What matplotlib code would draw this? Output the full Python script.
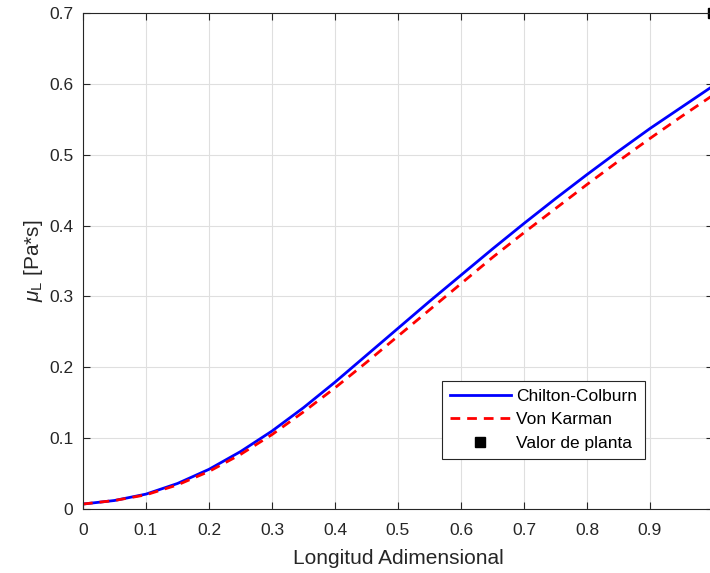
import numpy as np
import matplotlib
matplotlib.use("Agg")
import matplotlib.pyplot as plt

plt.rcParams['font.family'] = ['Liberation Sans', 'DejaVu Sans']
plt.rcParams['mathtext.fontset'] = 'custom'
plt.rcParams['mathtext.it'] = 'Liberation Sans:italic'
plt.rcParams['mathtext.rm'] = 'Liberation Sans'

# Longitud adimensional
x = [0.0, 0.05, 0.1, 0.15, 0.2, 0.25, 0.3, 0.35, 0.4, 0.45, 0.5,
     0.55, 0.6, 0.65, 0.7, 0.75, 0.8, 0.85, 0.9, 0.95, 1.0]

# viscosidad [Pa*s]
chilton_colburn = [0.007, 0.012, 0.021, 0.036, 0.056, 0.081, 0.110, 0.143, 0.179, 0.217, 0.255,
                   0.293, 0.330, 0.367, 0.403, 0.438, 0.472, 0.505, 0.537, 0.567, 0.597]
von_karman = [0.007, 0.012, 0.020, 0.034, 0.053, 0.077, 0.105, 0.137, 0.171, 0.207, 0.244,
              0.281, 0.318, 0.355, 0.390, 0.424, 0.458, 0.491, 0.523, 0.554, 0.584]

# valor de planta
planta_x = [1.0]
planta_y = [0.7]

fig = plt.figure(figsize=(7.1, 5.73), dpi=100)
ax = fig.add_axes([83 / 710, 64 / 573, 630 / 710, 496 / 573])

ax.plot(x, chilton_colburn, color='blue', lw=2, label='Chilton-Colburn')
ax.plot(x, von_karman, color='red', lw=2, ls=(0, (3.5, 2.5)), label='Von Karman')
ax.plot(planta_x, planta_y, 's', color='black', ms=7, ls='none', clip_on=False,
        label='Valor de planta')

ax.set_xlim(0, 1)
ax.set_ylim(0, 0.7)
ax.set_xticks(np.arange(0, 1.0, 0.1))
ax.set_xticklabels(['0', '0.1', '0.2', '0.3', '0.4', '0.5', '0.6', '0.7', '0.8', '0.9'])
ax.set_yticks(np.arange(0, 0.71, 0.1))
ax.set_yticklabels(['0', '0.1', '0.2', '0.3', '0.4', '0.5', '0.6', '0.7'])

ax.tick_params(direction='in', top=True, right=True, length=5, width=0.8,
               labelsize=12.5, colors='#262626')
ax.tick_params(axis='x', pad=10)
ax.tick_params(axis='y', pad=7)
for s in ax.spines.values():
    s.set_color('#262626')
    s.set_linewidth(0.8)

ax.grid(True, color='#dfdfdf', lw=0.8)
ax.set_axisbelow(True)

ax.set_xlabel('Longitud Adimensional', fontsize=15, color='#262626', labelpad=8)
ax.set_ylabel(r'$\mu_{\rm L}$ [Pa*s]', fontsize=15, color='#262626', labelpad=3)

leg = ax.legend(loc='lower right', bbox_to_anchor=(0.892, 0.101), borderaxespad=0,
                fontsize=12.5, fancybox=False, framealpha=1, edgecolor='#262626',
                handlelength=3.5, borderpad=0.47, labelspacing=0.47, handletextpad=0.3)
leg.get_frame().set_linewidth(0.8)

fig.savefig('out.png', dpi=100)
